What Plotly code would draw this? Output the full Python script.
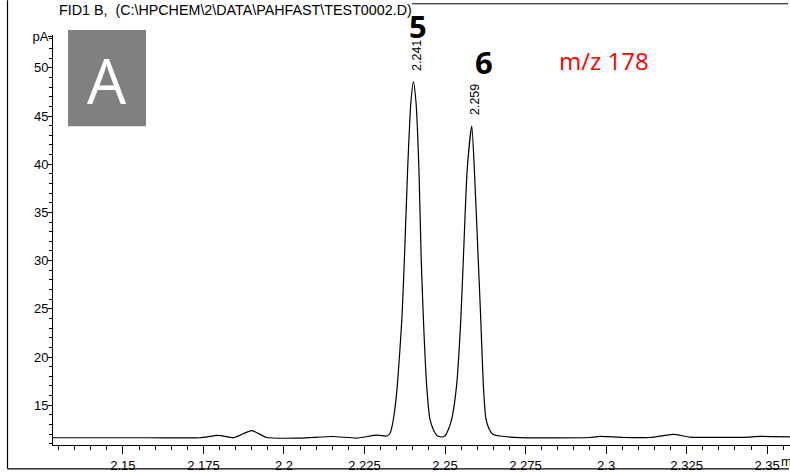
import plotly.graph_objects as go

# ---- data ----
time_min = [2.1283, 2.1584, 2.1739, 2.1795, 2.1845, 2.1900, 2.1946, 2.2050, 2.2152, 2.2226,
            2.2288, 2.2319, 2.2329, 2.2335, 2.2343, 2.2352, 2.2366, 2.2374, 2.2384, 2.2394,
            2.2402, 2.2410, 2.2419, 2.2426, 2.2433, 2.2443, 2.2453, 2.2463, 2.2475, 2.2488,
            2.2500, 2.2511, 2.2521, 2.2536, 2.2549, 2.2557, 2.2569, 2.2583, 2.2591, 2.2603,
            2.2611, 2.2619, 2.2627, 2.2637, 2.2649, 2.2671, 2.2733, 2.2950, 2.2981, 2.3053,
            2.3137, 2.3209, 2.3261, 2.3447, 2.3478, 2.3571]
signal_pA = [11.63, 11.63, 11.63, 11.88, 11.65, 12.37, 11.66, 11.60, 11.76, 11.60,
             11.90, 11.81, 12.07, 12.74, 14.28, 17.06, 23.88, 30.24, 39.50, 46.40,
             48.53, 46.40, 39.50, 30.24, 23.88, 17.06, 13.59, 12.53, 11.86, 11.71,
             11.81, 12.53, 13.59, 17.06, 23.88, 30.24, 39.50, 43.96, 39.50, 30.24,
             23.88, 17.06, 13.59, 12.53, 11.96, 11.81, 11.65, 11.66, 11.78, 11.66,
             11.66, 11.98, 11.70, 11.70, 11.78, 11.72]

peak_rt = [2.241, 2.259]
peak_height = [48.53, 43.96]
peak_number = ["5", "6"]

x_tick_vals = [2.15, 2.175, 2.2, 2.225, 2.25, 2.275, 2.3, 2.325, 2.35]
x_tick_text = ["2.15", "2.175", "2.2", "2.225", "2.25", "2.275", "2.3", "2.325", "2.35"]
y_tick_vals = [15, 20, 25, 30, 35, 40, 45, 50, 53.2]
y_tick_text = ["15", "20", "25", "30", "35", "40", "45", "50", "pA"]

title_text = "FID1 B,\u00a0 (C:\\HPCHEM\\2\\DATA\\PAHFAST\\TEST0002.D)"
panel_letter = "A"
mz_text = "m/z 178"

# ---- layout geometry (pixels) ----
W, H = 790, 473
ML, MR, MT, MB = 53, 0, 35, 25
PW, PH = W - ML - MR, H - MT - MB


def px(xp):
    return (xp - ML) / PW


def py(yp):
    return (H - MB - yp) / PH


fig = go.Figure()
fig.add_trace(go.Scatter(
    x=time_min, y=signal_pA, mode="lines",
    line=dict(color="black", width=1.2, shape="spline", smoothing=0.6),
    hoverinfo="skip", showlegend=False,
))

tick_font = dict(family="Liberation Sans, Arial, sans-serif", size=13, color="black")

annotations = []
for rt, h, num, dx, dy in zip(peak_rt, peak_height, peak_number, [2, 10], [56, 64]):
    annotations.append(dict(
        x=rt, y=h, xref="x", yref="y", text=f"{rt:.3f}", textangle=-90,
        showarrow=False, xanchor="center", yanchor="middle", yshift=26, xshift=1,
        font=dict(family="Liberation Sans, Arial, sans-serif", size=12.5, color="black"),
    ))
    annotations.append(dict(
        x=rt, y=h, xref="x", yref="y", text=f"<b>{num}</b>",
        showarrow=False, xanchor="center", yanchor="middle", yshift=dy, xshift=dx,
        font=dict(family="Open Sans, sans-serif", size=31, color="black"),
    ))

annotations += [
    dict(x=px(57), y=py(10), xref="paper", yref="paper", text=title_text,
         showarrow=False, xanchor="left", yanchor="middle",
         font=dict(family="Liberation Sans, Arial, sans-serif", size=14.3, color="black")),
    dict(x=px(107), y=py(80), xref="paper", yref="paper", text=panel_letter,
         showarrow=False, xanchor="center", yanchor="middle",
         font=dict(family="Open Sans, sans-serif", size=62, color="white")),
    dict(x=px(604), y=py(61), xref="paper", yref="paper", text=mz_text,
         showarrow=False, xanchor="center", yanchor="middle",
         font=dict(family="Open Sans, sans-serif", size=24, color="#ff0000")),
    dict(x=px(779), y=py(465), xref="paper", yref="paper", text="min",
         showarrow=False, xanchor="left", yanchor="middle", font=tick_font),
]

shapes = [
    # grey panel box
    dict(type="rect", xref="paper", yref="paper", x0=px(68), x1=px(146), y0=py(127), y1=py(30),
         fillcolor="#808080", line=dict(width=0), layer="below"),
    # outer frame
    dict(type="line", xref="paper", yref="paper", x0=px(7.5), x1=px(7.5), y0=py(0), y1=py(472),
         line=dict(color="black", width=1.2)),
    dict(type="line", xref="paper", yref="paper", x0=px(7.5), x1=px(789), y0=py(472), y1=py(472),
         line=dict(color="black", width=1.2)),
    dict(type="line", xref="paper", yref="paper", x0=px(412), x1=px(788), y0=py(3.5), y1=py(3.5),
         line=dict(color="black", width=1.2)),
]

fig.update_layout(
    width=W, height=H,
    margin=dict(l=ML, r=MR, t=MT, b=MB, pad=0),
    paper_bgcolor="white", plot_bgcolor="white",
    showlegend=False,
    annotations=annotations,
    shapes=shapes,
    xaxis=dict(
        range=[2.1283, 2.3571], showgrid=False, zeroline=False,
        showline=True, linecolor="black", linewidth=1,
        tickmode="array", tickvals=x_tick_vals, ticktext=x_tick_text,
        ticks="outside", ticklen=8, tickwidth=1, tickcolor="black",
        tickfont=tick_font,
        minor=dict(dtick=0.005, tick0=2.15, ticks="outside", ticklen=4, tickwidth=1, tickcolor="black"),
        fixedrange=True,
    ),
    yaxis=dict(
        range=[10.88, 53.4], showgrid=False, zeroline=False,
        showline=True, linecolor="black", linewidth=1,
        tickmode="array", tickvals=y_tick_vals, ticktext=y_tick_text,
        ticks="outside", ticklen=4, tickwidth=1, tickcolor="black",
        tickfont=tick_font, ticklabelstandoff=-3,
        minor=dict(dtick=1, tick0=0, ticks="outside", ticklen=3, tickwidth=1, tickcolor="black"),
        fixedrange=True,
    ),
)

fig.write_html("out.html")
